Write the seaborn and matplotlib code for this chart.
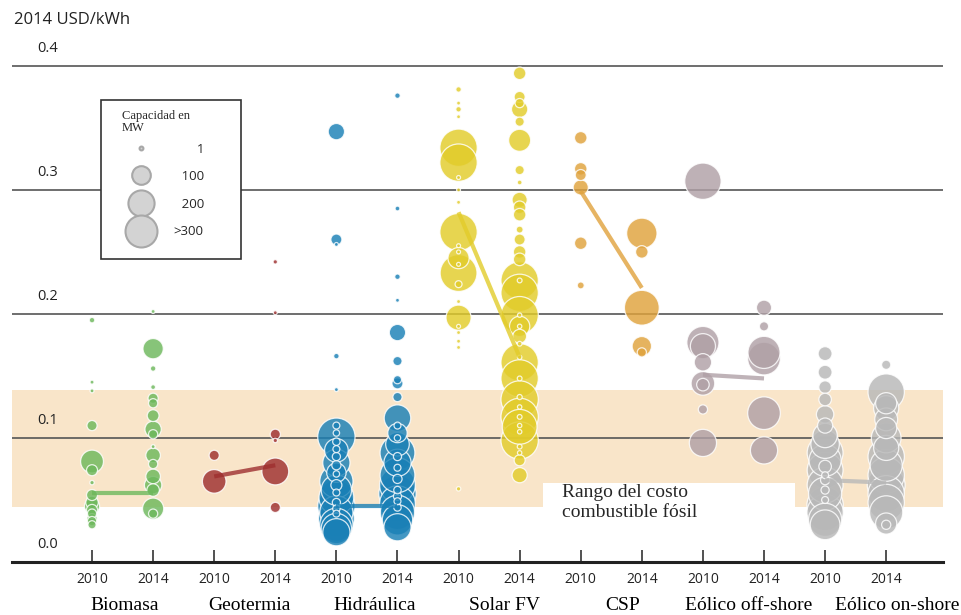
# LCOE por tecnologia 2010 vs 2014 - grafico de burbujas

import numpy as np
import pandas as pd
import matplotlib
matplotlib.use("Agg")
import matplotlib.pyplot as plt
from matplotlib.lines import Line2D
from matplotlib.patches import Rectangle
import seaborn as sns

# ==========================================
# Datos
# ==========================================

techs = ["Biomasa", "Geotermia", "Hidráulica", "Solar FV", "CSP",
         "Eólico off-shore", "Eólico on-shore"]
years = ["2010", "2014"]
colors = ["#6db85c", "#9e2f2f", "#1a80b6", "#e2cc2a", "#e0a23c",
          "#b0a0a6", "#b8b8b8"]

bio_2010_lcoe = [0.195, 0.145, 0.138, 0.110, 0.081, 0.074, 0.064, 0.054, 0.048,
                 0.045, 0.042, 0.039, 0.035, 0.033, 0.030]
bio_2010_mw = [5, 1, 1, 25, 140, 30, 2, 30, 40, 60, 30, 20, 25, 20, 15]
bio_2014_lcoe = [0.202, 0.172, 0.156, 0.141, 0.132, 0.128, 0.118, 0.107, 0.103,
                 0.093, 0.086, 0.079, 0.069, 0.062, 0.058, 0.043, 0.039]
bio_2014_mw = [1, 110, 5, 3, 25, 20, 35, 70, 20, 1, 55, 20, 55, 80, 40, 120, 20]

geo_2010_lcoe = [0.086, 0.065]
geo_2010_mw = [25, 150]
geo_2014_lcoe = [0.242, 0.201, 0.103, 0.098, 0.073, 0.044]
geo_2014_mw = [2, 1, 25, 2, 195, 25]

hyd_2010_lcoe = [0.347, 0.260, 0.256, 0.166, 0.139,
                 0.101, 0.090, 0.080, 0.072, 0.065, 0.058, 0.052, 0.045, 0.040,
                 0.035, 0.030, 0.027, 0.024,
                 0.110, 0.104, 0.097, 0.091, 0.085, 0.078, 0.071, 0.062, 0.056,
                 0.048, 0.043, 0.039]
hyd_2010_mw = [70, 30, 1, 5, 1,
               380, 150, 200, 100, 300, 250, 330, 380, 300,
               350, 300, 250, 200,
               10, 8, 12, 10, 15, 20, 8, 30, 10, 15, 12, 10]
hyd_2014_lcoe = [0.376, 0.285, 0.230, 0.211, 0.185, 0.162, 0.147, 0.144, 0.133,
                 0.116, 0.104, 0.095, 0.088, 0.080, 0.070, 0.062, 0.055, 0.047,
                 0.040, 0.034, 0.028,
                 0.110, 0.100, 0.085, 0.076, 0.067, 0.058, 0.053, 0.049, 0.044]
hyd_2014_mw = [5, 3, 5, 1, 70, 20, 15, 30, 20,
               190, 100, 150, 330, 200, 330, 350, 380, 350,
               320, 250, 200,
               10, 8, 15, 10, 20, 12, 15, 10, 12]

sol_2010_lcoe = [0.381, 0.370, 0.365, 0.359, 0.334, 0.322, 0.310, 0.300, 0.290,
                 0.266, 0.245, 0.233, 0.224, 0.255, 0.250, 0.240, 0.210, 0.197,
                 0.190, 0.185, 0.178, 0.173, 0.059]
sol_2010_mw = [5, 1, 5, 1, 380, 380, 1, 1, 1,
               380, 120, 370, 10, 1, 1, 1, 1, 170,
               1, 1, 1, 1, 2]
sol_2014_lcoe = [0.394, 0.375, 0.370, 0.365, 0.355, 0.340, 0.316, 0.306, 0.292,
                 0.286, 0.280, 0.268, 0.260, 0.250, 0.244, 0.227, 0.217, 0.199,
                 0.190, 0.182, 0.161, 0.148, 0.131, 0.117, 0.109, 0.098, 0.082,
                 0.070,
                 0.227, 0.199, 0.190, 0.176, 0.165, 0.148, 0.133, 0.125, 0.117,
                 0.110, 0.105, 0.093, 0.088]
sol_2014_mw = [40, 30, 20, 70, 20, 130, 20, 3, 60,
               40, 40, 10, 30, 40, 40, 380, 380, 380,
               110, 50, 380, 380, 380, 380, 330, 380, 30,
               60,
               3, 2, 2, 3, 2, 3, 4, 2, 3, 2, 2, 3, 2]

csp_2010_lcoe = [0.342, 0.317, 0.312, 0.302, 0.257, 0.223]
csp_2010_mw = [40, 40, 30, 60, 40, 10]
csp_2014_lcoe = [0.265, 0.250, 0.205, 0.174, 0.169]
csp_2014_mw = [250, 40, 330, 100, 20]

off_2010_lcoe = [0.307, 0.177, 0.174, 0.161, 0.144, 0.143, 0.123, 0.096]
off_2010_mw = [360, 280, 170, 80, 150, 40, 20, 200]
off_2014_lcoe = [0.205, 0.190, 0.169, 0.164, 0.120, 0.090]
off_2014_mw = [60, 20, 280, 290, 290, 200]

on_2010_lcoe = [0.168, 0.153, 0.141, 0.131, 0.119, 0.110, 0.102, 0.095, 0.088,
                0.082, 0.077, 0.074, 0.070, 0.066, 0.062, 0.058, 0.055, 0.050,
                0.046, 0.040, 0.034, 0.030]
on_2010_mw = [50, 50, 40, 40, 80, 60, 160, 220, 350,
              280, 40, 350, 10, 20, 350, 15, 300, 10,
              360, 360, 300, 240]
on_2014_lcoe = [0.159, 0.137, 0.128, 0.124, 0.115, 0.108, 0.100, 0.092, 0.085,
                0.078, 0.070, 0.062, 0.055, 0.048, 0.040, 0.031, 0.030]
on_2014_mw = [20, 360, 120, 170, 140, 120, 240, 170, 360,
              280, 360, 390, 360, 360, 300, 120, 20]

# promedio ponderado 2010 -> 2014
avg_2010 = [0.056, 0.069, 0.045, 0.282, 0.299, 0.151, 0.066]
avg_2014 = [0.056, 0.078, 0.045, 0.165, 0.221, 0.148, 0.064]

# rango del costo de combustibles fosiles
fossil_low = 0.0444
fossil_high = 0.1387

legend_mw = [1, 100, 200, 300]
legend_labels = ["\u2007\u2007\u20071", "\u2007100", "\u2007200", ">300"]

# ==========================================
# Tabla larga
# ==========================================

series = [
    (bio_2010_lcoe, bio_2010_mw, bio_2014_lcoe, bio_2014_mw),
    (geo_2010_lcoe, geo_2010_mw, geo_2014_lcoe, geo_2014_mw),
    (hyd_2010_lcoe, hyd_2010_mw, hyd_2014_lcoe, hyd_2014_mw),
    (sol_2010_lcoe, sol_2010_mw, sol_2014_lcoe, sol_2014_mw),
    (csp_2010_lcoe, csp_2010_mw, csp_2014_lcoe, csp_2014_mw),
    (off_2010_lcoe, off_2010_mw, off_2014_lcoe, off_2014_mw),
    (on_2010_lcoe, on_2010_mw, on_2014_lcoe, on_2014_mw),
]

rows = []
for i, (l10, m10, l14, m14) in enumerate(series):
    for j, (lc, mw) in enumerate([(l10, m10), (l14, m14)]):
        for v, c in zip(lc, mw):
            rows.append({"tech": techs[i], "pos": 2 * i + j, "lcoe": v, "mw": c})
df = pd.DataFrame(rows)
# grandes primero, pequenas encima
df = df.sort_values("mw", ascending=False, kind="stable")

# ==========================================
# Grafico
# ==========================================

sns.set_theme(style="white")
plt.rcParams["font.family"] = ["Open Sans", "DejaVu Sans"]

fig, ax = plt.subplots(figsize=(9.61, 6.15), dpi=100)
fig.subplots_adjust(left=12 / 961, right=943 / 961, bottom=53 / 615, top=595 / 615)

# banda de combustibles fosiles
ax.axhspan(fossil_low, fossil_high, color="#f9e5c9", zorder=0, lw=0)
ax.fill_between([7.38, 11.5], fossil_low - 0.001, 0.0637, color="white",
                zorder=0.5, lw=0)

for v in [0.1, 0.2, 0.3, 0.4]:
    ax.axhline(v, color="#555555", lw=1.2, zorder=1)

size_norm = (1, 400)
sns.scatterplot(data=df, x="pos", y="lcoe", hue="tech", hue_order=techs,
                palette=colors, size="mw", sizes=(8, 760), size_norm=size_norm,
                alpha=0.82, edgecolor="white", linewidth=0.9, legend=False,
                ax=ax, zorder=3)
for c in ax.collections[-1:]:
    c.set_clip_on(False)

# lineas de promedio ponderado
for i in range(len(techs)):
    ax.plot([2 * i, 2 * i + 1], [avg_2010[i], avg_2014[i]], color=colors[i],
            lw=3, alpha=0.8, solid_capstyle="butt", zorder=4)

ax.set_xlim(-1.31, 13.93)
ax.set_ylim(0, 0.437)

ax.set_xticks(range(14))
ax.set_xticklabels(years * 7)
ax.tick_params(axis="x", direction="in", length=9, width=1.2, color="#333333",
               pad=7, labelsize=10, labelcolor="#222222", bottom=True)
ax.set_yticks([])
ax.set_xlabel("")
ax.set_ylabel("")

for s in ["top", "right", "left"]:
    ax.spines[s].set_visible(False)
ax.spines["bottom"].set_linewidth(2.2)
ax.spines["bottom"].set_color("#222222")

for v in [0.0, 0.1, 0.2, 0.3, 0.4]:
    ax.text(0.0494, v + 0.014, f"{v:.1f}", transform=ax.get_yaxis_transform(),
            ha="right", va="center", fontsize=10.5, color="#222222")

fig.text(14 / 961, 1 - 20 / 615, "2014 USD/kWh", ha="left", va="center",
         fontsize=12, color="#222222")

# nombres de tecnologias (serif)
label_x = [125, 249, 375, 505, 623, 749, 897]
for name, px in zip(techs, label_x):
    fig.text(px / 961, 5 / 615, name, ha="center", va="baseline",
             fontsize=14, family="Liberation Serif", color="black")

ax.text(7.69, 0.048, "Rango del costo\ncombustible fósil", ha="left",
        va="center", fontsize=14, family="Liberation Serif", linespacing=1.2,
        zorder=5)

# leyenda de capacidad
fig.add_artist(Rectangle((101 / 961, 1 - 259 / 615), 140 / 961, 159 / 615,
                         transform=fig.transFigure, facecolor="white",
                         edgecolor="#333333", lw=1.2, zorder=1))
fig.text(122 / 961, 1 - 110 / 615, "Capacidad en\nMW", ha="left", va="top",
         fontsize=9, family="Liberation Serif", linespacing=1.05, zorder=6)

def marker_size(mw):
    # tamano de marcador de la leyenda (en puntos)
    s = 6 + (mw - 1) * 547 / 399
    return np.sqrt(s * 4 / np.pi)

handles = [Line2D([], [], ls="", marker="o", ms=marker_size(m), mfc="#d3d3d3",
                  mec="#a8a8a8", mew=1.5) for m in legend_mw]
leg = fig.legend(handles, legend_labels,
                 loc="upper left", bbox_to_anchor=(119 / 961, 1 - 136 / 615),
                 frameon=False, handlelength=2.4,
                 handletextpad=1.25, labelspacing=1.1, borderpad=0,
                 fontsize=9.5)
leg.set_zorder(6)

plt.savefig("out.png", dpi=100)
